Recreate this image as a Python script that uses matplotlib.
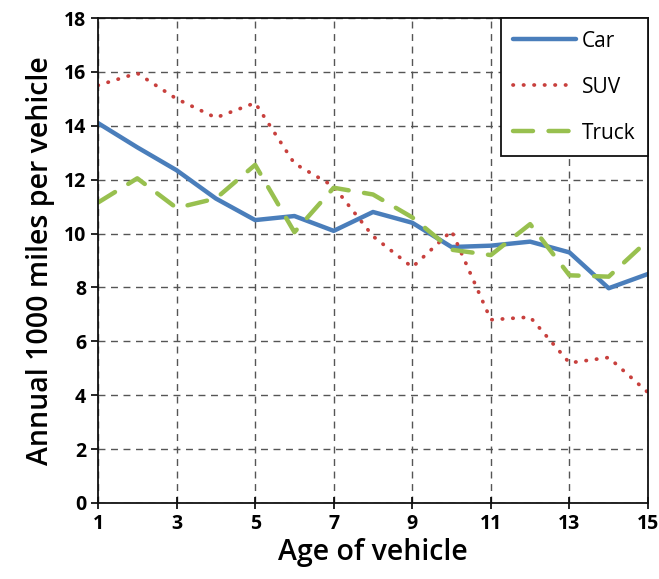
import matplotlib.pyplot as plt

plt.rcParams['font.family'] = ['Open Sans', 'DejaVu Sans']

AGES = list(range(1, 16))
CAR = [14.1, 13.2, 12.35, 11.3, 10.5, 10.65, 10.1, 10.8, 10.4, 9.5, 9.55, 9.7, 9.3, 7.97, 8.5]
SUV = [15.5, 15.95, 15.0, 14.3, 14.85, 12.6, 11.75, 9.9, 8.75, 10.1, 6.8, 6.9, 5.2, 5.4, 4.1]
TRUCK = [11.15, 12.05, 10.95, 11.3, 12.55, 10.05, 11.7, 11.45, 10.6, 9.4, 9.2, 10.35, 8.45, 8.4, 9.75]

X_TICKS = list(range(1, 16, 2))
Y_TICKS = list(range(0, 19, 2))

fig = plt.figure(figsize=(6.59, 5.79), dpi=100)
ax = fig.add_axes([0.1487, 0.1313, 0.8346, 0.8376])

ax.plot(AGES, CAR, color="#4a7ebb", lw=3.2, solid_capstyle="round", label="Car")
ax.plot(AGES, SUV, color="#c8403d", lw=2.7, linestyle=(0, (0.1, 2.7)),
        dash_capstyle="round", label="SUV")
ax.plot(AGES, TRUCK, color="#98c04f", lw=3.2, linestyle=(0, (4.5, 3.5)),
        dash_capstyle="round", label="Truck")

ax.set_xlim(1, 15)
ax.set_ylim(0, 18)
ax.set_xticks(X_TICKS)
ax.set_yticks(Y_TICKS)
ax.tick_params(axis="x", direction="inout", length=8, width=1.2, labelsize=14, pad=4)
ax.tick_params(axis="y", direction="out", length=5, width=1.2, labelsize=14)
for lab in ax.get_xticklabels() + ax.get_yticklabels():
    lab.set_fontweight("bold")

ax.grid(True, color="#555555", linestyle=(0, (5, 4)), linewidth=1.0)
for sp in ax.spines.values():
    sp.set_color("#111111")
    sp.set_linewidth(1.3)

ax.set_xlabel("Age of vehicle", fontsize=20.5, fontweight="semibold", labelpad=3)
ax.set_ylabel("Annual 1000 miles per vehicle", fontsize=20.5, fontweight="semibold", labelpad=6)

leg = ax.legend(loc="upper right", fontsize=15, handlelength=3.0, labelspacing=1.2,
                fancybox=False, framealpha=1, edgecolor="#111111", borderaxespad=0,
                borderpad=0.6, handletextpad=0.3)
leg.get_frame().set_linewidth(1.3)

plt.savefig("out.png", dpi=100)
